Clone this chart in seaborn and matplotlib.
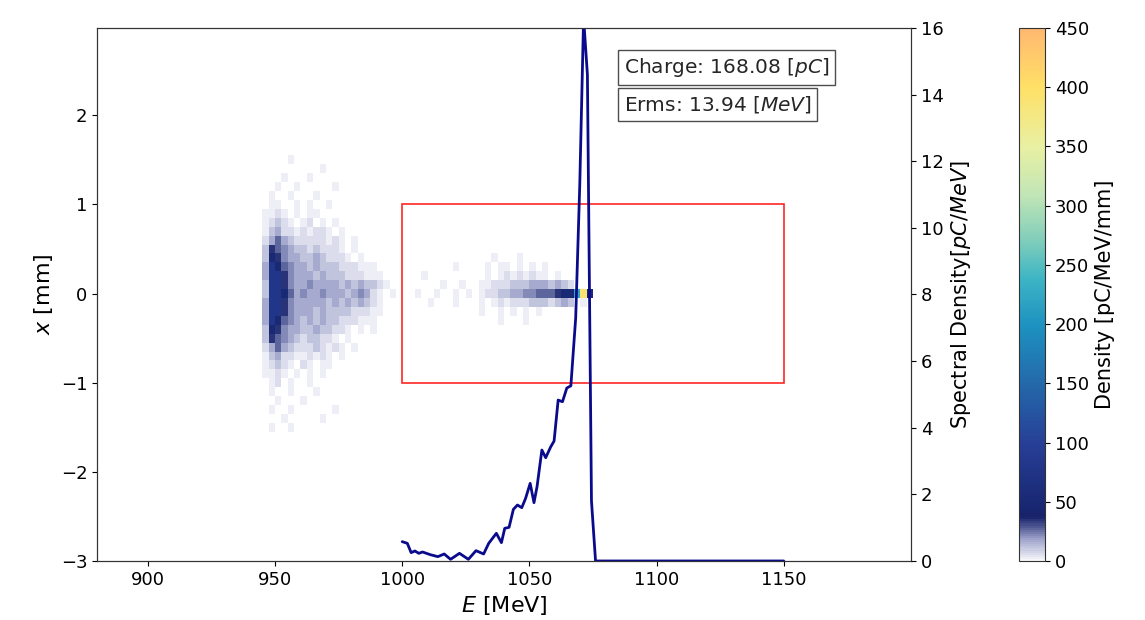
"""
Energy spectrum / transverse phase-space plot
"""

import numpy as np
import matplotlib
matplotlib.use('Agg')
import matplotlib.pyplot as plt
from matplotlib.colors import LinearSegmentedColormap
from matplotlib.patches import Rectangle
import seaborn as sns

# ---- spectral density curve ----
spec_E = [1000, 1002, 1003.5, 1005, 1006.5, 1008, 1011, 1014, 1016.5, 1019,
          1022.5, 1026, 1029, 1032, 1034, 1037, 1039, 1040.3, 1042, 1043.7,
          1045.3, 1047, 1048.5, 1050.3, 1051.8, 1053, 1054.9, 1056.4, 1058.4,
          1059.7, 1061.3, 1063, 1064.7, 1066.3, 1068.2, 1069.8, 1071.3, 1072.8,
          1074.4, 1076, 1100, 1125, 1150]
spec_S = [0.58, 0.53, 0.25, 0.30, 0.23, 0.27, 0.19, 0.13, 0.21, 0.05,
          0.23, 0.05, 0.31, 0.21, 0.53, 0.83, 0.55, 0.98, 1.01, 1.55,
          1.68, 1.60, 1.88, 2.33, 1.75, 2.23, 3.33, 3.10, 3.43,
          3.60, 4.83, 4.78, 5.19, 5.26, 7.3, 11.3, 16.3, 14.6,
          1.8, 0.0, 0.0, 0.0, 0.0]

# ---- density maps, one char per cell (2.5 MeV x 0.1 mm) ----
# '.' empty, '1'..'9' rising density, 'T' teal, 'Y' yellow
level_chars = ['.', '1', '2', '3', '4', '5', '6', '7', '8', '9', 'T', 'Y']
level_vals = [0, 3, 7, 12, 17, 22, 28, 35, 50, 80, 220, 390]

# low-energy blob, E from 940 MeV, rows from x = +1.5 mm down to -1.5 mm
blobA_E0 = 940.0
blobA_x_top = 1.5
blobA_rows = [
    "......1",
    "...........1",
    ".....1...1",
    "....1..1.....1",
    "...1..1...1",
    "...11..1.1..1",
    "..1121.1.11",
    "..12321.12.1.1",
    "..13422121221.1",
    "..2464322222121.1",
    "..3765433232221.1",
    "..38754433432221.1",
    "..498654434333222111",
    "..4997544434333222111",
    "..39975445444434343321",
    "..3998645445444345421.1",
    "..4997544444343434321",
    "..4997544434333322211",
    "..498654343433222111",
    "..38754433433221.1.1",
    "..376543233221.1",
    "..2464322232121.1",
    "..13422112121.1",
    "..12321.21.11",
    "..1121.1.1.1",
    "...12.1..1",
    "...1..1...1",
    "....1...1",
    "...1..1......1",
    ".....1.....1",
    "...1..1",
]

# high-energy blob, E from 1000 MeV, rows from x = +0.4 mm down to -0.3 mm
blobB_E0 = 1000.0
blobB_x_top = 0.4
blobB_rows = [
    "..............1...1..",
    "........1....1.11.1.1.1",
    "...1.........1.12121211.1",
    "......1..1..112223334443432",
    "..1..1..1.1.122334455666788TY8..",
    "....1...1...1.1212223332343.1",
    "............1..1.1.1.1",
    "...............1...1",
]

# colour scale
cbar_ticks = [0, 50, 100, 150, 200, 250, 300, 350, 400, 450]
cmap_pos = [0.0, 0.04, 0.08, 0.12, 0.22, 0.33, 0.44, 0.53, 0.6, 0.69, 0.78, 0.89, 1.0]
cmap_cols = ['#f7f7fb', '#9aa0c8', '#17226a', '#1b2b78', '#273f96', '#2468aa',
             '#1d91c0', '#3db5c5', '#7fcdbb', '#c3e6b6', '#e9f0a2', '#ffe066', '#ffb870']


def build_grid(rows, E0, x_top, dE=2.5, dx=0.1):
    ncol = max(len(r) for r in rows)
    lookup = dict(zip(level_chars, level_vals))
    grid = np.full((len(rows), ncol), np.nan)
    for i, r in enumerate(rows):
        for j, ch in enumerate(r):
            v = lookup[ch]
            if v > 0:
                grid[i, j] = v
    E_edges = E0 + dE * np.arange(ncol + 1)
    x_edges = x_top + dx / 2 - dx * np.arange(len(rows) + 1)
    return E_edges, x_edges, np.ma.masked_invalid(grid)


def main():
    sns.set_style("ticks")
    plt.rcParams['font.family'] = ['DejaVu Sans']
    plt.rcParams['mathtext.fontset'] = 'dejavusans'

    cmap = LinearSegmentedColormap.from_list('dens', list(zip(cmap_pos, cmap_cols)))

    fig = plt.figure(figsize=(11.45, 6.2), dpi=100)
    ax = fig.add_axes([0.0847, 0.0952, 0.7109, 0.8597])
    cax = fig.add_axes([0.890, 0.0952, 0.0227, 0.8597])

    mesh = None
    for rows, E0, x_top in [(blobA_rows, blobA_E0, blobA_x_top),
                            (blobB_rows, blobB_E0, blobB_x_top)]:
        Ee, xe, g = build_grid(rows, E0, x_top)
        mesh = ax.pcolormesh(Ee, xe, g, cmap=cmap, vmin=0, vmax=450, shading='flat')

    ax.add_patch(Rectangle((1000, -1), 150, 2, fill=False, edgecolor='red',
                           linewidth=1.2, alpha=0.85, zorder=3))

    ax.set_xlim(880, 1200)
    ax.set_ylim(-3, 2.98)
    ax.set_xticks([900, 950, 1000, 1050, 1100, 1150])
    ax.set_yticks([-3, -2, -1, 0, 1, 2])
    ax.tick_params(labelsize=13, colors='black')
    ax.set_xlabel('$E$ [MeV]', fontsize=16, color='black')
    ax.set_ylabel('$x$ [mm]', fontsize=16, color='black')

    ax2 = ax.twinx()
    sns.lineplot(x=spec_E, y=spec_S, ax=ax2, color='#0a0a8c', linewidth=2,
                 estimator=None, sort=False)
    ax2.set_ylim(0, 16)
    ax2.set_yticks(range(0, 17, 2))
    ax2.tick_params(labelsize=13, colors='black')
    ax2.set_ylabel('Spectral Density[$pC/MeV$]', fontsize=15, color='black')

    box = dict(boxstyle='square,pad=0.3', facecolor='white', edgecolor='0.3', linewidth=1)
    ax2.text(0.647, 0.925, 'Charge: 168.08 [$pC$]', transform=ax2.transAxes,
             fontsize=14.5, va='center', ha='left', bbox=box)
    ax2.text(0.647, 0.857, 'Erms: 13.94 [$MeV$]', transform=ax2.transAxes,
             fontsize=14.5, va='center', ha='left', bbox=box)

    for a in (ax, ax2):
        for s in a.spines.values():
            s.set_color('0.2')

    cb = fig.colorbar(mesh, cax=cax, ticks=cbar_ticks)
    cb.ax.tick_params(labelsize=13, colors='black')
    cb.set_label('Density [pC/MeV/mm]', fontsize=15, color='black')
    cb.outline.set_edgecolor('0.2')

    fig.savefig('out.png', dpi=100)
    plt.close(fig)


if __name__ == "__main__":
    main()
